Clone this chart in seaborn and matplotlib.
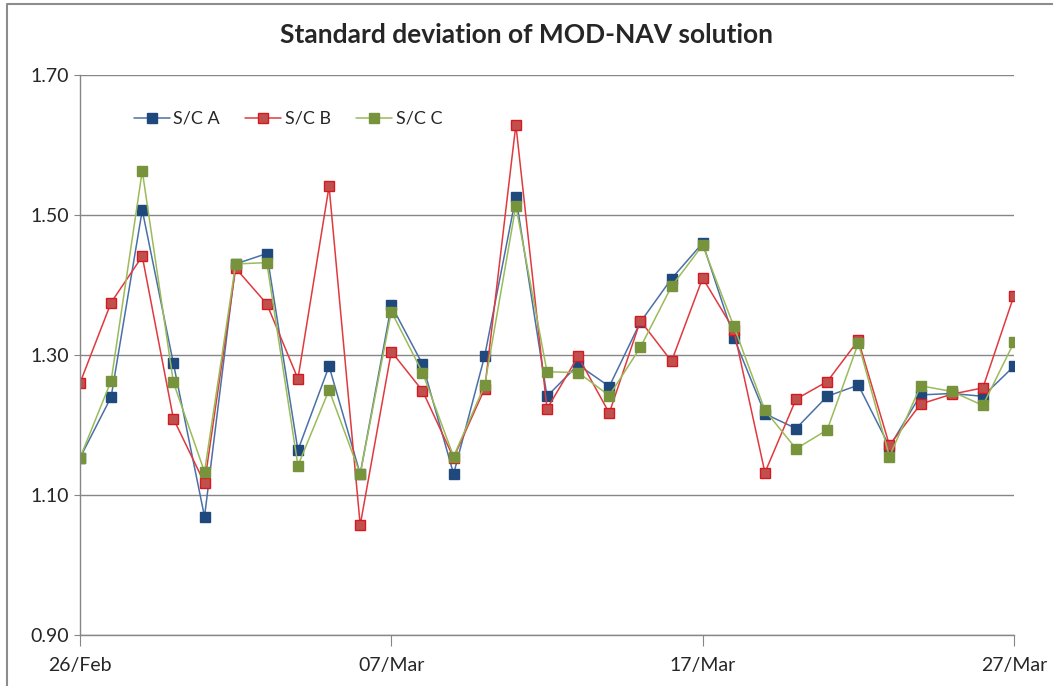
import pandas as pd
import numpy as np
import seaborn as sns
import matplotlib.pyplot as plt
import matplotlib.dates as mdates
from matplotlib.lines import Line2D

# daily values 26/Feb .. 27/Mar
dates = pd.date_range('2024-02-26', '2024-03-27', freq='D')

sc_a = [1.153, 1.240, 1.507, 1.288, 1.069, 1.430, 1.445, 1.164, 1.284, 1.130,
        1.371, 1.287, 1.130, 1.299, 1.526, 1.241, 1.286, 1.255, 1.347, 1.409,
        1.460, 1.325, 1.216, 1.195, 1.241, 1.257, 1.169, 1.243, 1.245, 1.241,
        1.284]
sc_b = [1.260, 1.375, 1.441, 1.209, 1.117, 1.424, 1.373, 1.266, 1.541, 1.057,
        1.305, 1.249, 1.153, 1.252, 1.629, 1.223, 1.298, 1.217, 1.349, 1.291,
        1.410, 1.336, 1.132, 1.237, 1.262, 1.321, 1.171, 1.230, 1.244, 1.253,
        1.385]
sc_c = [1.153, 1.263, 1.563, 1.261, 1.133, 1.430, 1.432, 1.142, 1.250, 1.130,
        1.362, 1.275, 1.155, 1.257, 1.513, 1.276, 1.275, 1.242, 1.311, 1.398,
        1.457, 1.341, 1.221, 1.166, 1.193, 1.317, 1.155, 1.256, 1.248, 1.228,
        1.318]

series = ['S/C A', 'S/C B', 'S/C C']
values = [sc_a, sc_b, sc_c]
line_col = ['#4A70A8', '#E0393E', '#9BBB59']
face_col = ['#1F497D', '#C0504D', '#77933C']
edge_col = ['#1F497D', '#D7191F', '#77933C']

sns.set_style('white')
plt.rcParams['font.family'] = ['Lato', 'DejaVu Sans']

fig = plt.figure(figsize=(10.53, 6.86), dpi=100)
ax = fig.add_axes([80/1053, 1-635/686, (1014-80)/1053, (635-75)/686])

for name, vals, lc, fc, ec in zip(series, values, line_col, face_col, edge_col):
    sns.lineplot(x=dates, y=vals, ax=ax, color=lc, linewidth=1.1,
                 marker='s', markersize=7, markerfacecolor=fc,
                 markeredgecolor=ec, markeredgewidth=1, label=name)

ax.set_ylim(0.9, 1.7)
ax.set_yticks([0.9, 1.1, 1.3, 1.5, 1.7])
ax.yaxis.set_major_formatter(plt.FormatStrFormatter('%.2f'))
ax.set_xlim(dates[0], dates[-1])
ax.set_xticks([dates[0], dates[10], dates[20], dates[30]])
ax.xaxis.set_major_formatter(mdates.DateFormatter('%d/%b'))
ax.set_xlabel('')
ax.set_ylabel('')

ax.grid(axis='y', color='#868686', linewidth=1)
ax.set_axisbelow(True)
for s in ['top', 'right']:
    ax.spines[s].set_visible(False)
for s in ['left', 'bottom']:
    ax.spines[s].set_color('#868686')
    ax.spines[s].set_linewidth(1)
ax.tick_params(axis='x', direction='out', length=8, color='#868686',
               labelsize=14, pad=8, bottom=True)
ax.tick_params(axis='y', direction='out', length=4, color='#868686',
               labelsize=14, pad=4, left=True)

ax.legend(loc='upper left', bbox_to_anchor=(0.04, 0.965), ncol=3,
          frameon=False, fontsize=13, handlelength=2.0, columnspacing=1.4,
          handletextpad=0.2)

fig.text(0.5, 0.949, 'Standard deviation of MOD-NAV solution', ha='center',
         va='center', fontsize=19, fontweight='bold')

# chart-area border (left and top edges visible)
fig.add_artist(Line2D([6.5/1053, 6.5/1053, 1], [0, 1-3.5/686, 1-3.5/686],
                      transform=fig.transFigure, color='#8C8C8C', linewidth=1.5))

fig.savefig('out.png', dpi=100)
